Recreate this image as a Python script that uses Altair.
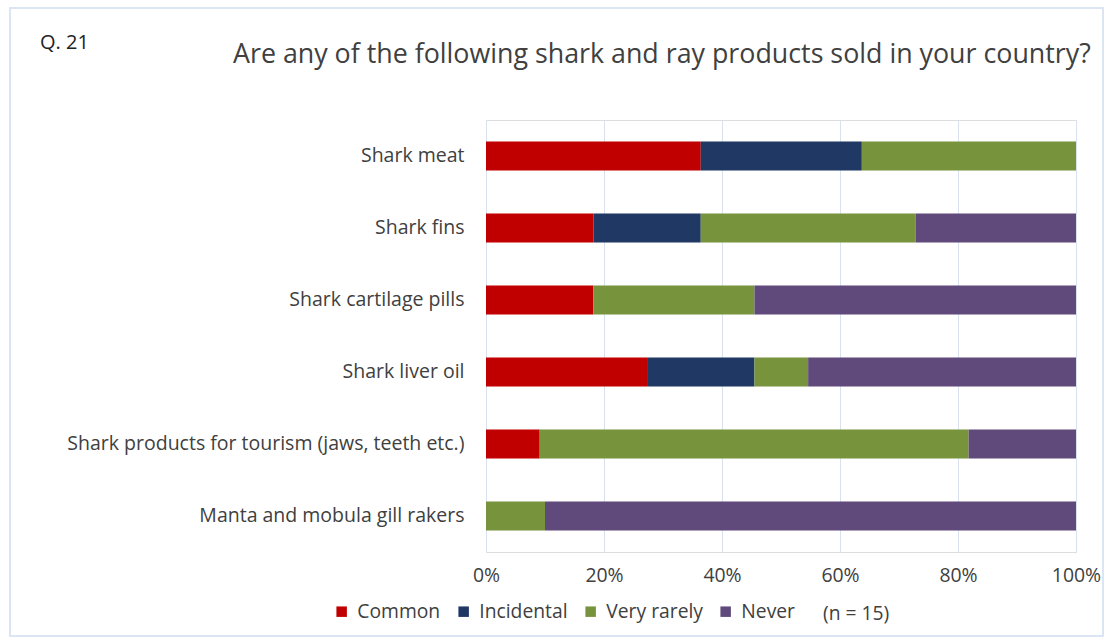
import altair as alt
import pandas as pd

products = [
    "Shark meat",
    "Shark fins",
    "Shark cartilage pills",
    "Shark liver oil",
    "Shark products for tourism (jaws, teeth etc.)",
    "Manta and mobula gill rakers",
]
levels = ["Common", "Incidental", "Very rarely", "Never"]
colors = ["#c00000", "#1f3864", "#77933c", "#604a7b"]

common = [36.4, 18.2, 18.2, 27.3, 9.1, 0.0]
incidental = [27.3, 18.2, 0.0, 18.2, 0.0, 0.0]
very_rarely = [36.3, 36.4, 27.3, 9.1, 72.7, 10.0]
never = [0.0, 27.2, 54.5, 45.4, 18.2, 90.0]

rows = []
for i, p in enumerate(products):
    for j, (lvl, vals) in enumerate(zip(levels, [common, incidental, very_rarely, never])):
        rows.append({"product": p, "level": lvl, "order": j, "value": vals[i] / 100.0})
df = pd.DataFrame(rows)

FONT = "Open Sans"
TXT = "#404040"

bars = alt.Chart(df).mark_bar().encode(
    x=alt.X(
        "value:Q",
        stack="zero",
        scale=alt.Scale(domain=[0, 1], nice=False),
        axis=alt.Axis(
            format="%",
            values=[0, 0.2, 0.4, 0.6, 0.8, 1.0],
            title=None,
            domain=False,
            ticks=False,
            grid=True,
            gridColor="#d9e1ef",
            gridWidth=1,
            labelFont=FONT,
            labelFontSize=19.4,
            labelColor=TXT,
            labelPadding=14,
            labelFlush=False,
            labelOverlap=False,
        ),
    ),
    y=alt.Y(
        "product:N",
        sort=products,
        scale=alt.Scale(paddingInner=0.6, paddingOuter=0.3),
        axis=alt.Axis(
            title=None,
            domain=False,
            ticks=False,
            labelFont=FONT,
            labelFontSize=19.5,
            labelColor=TXT,
            labelPadding=22,
            labelLimit=500,
        ),
    ),
    color=alt.Color(
        "level:N",
        sort=levels,
        scale=alt.Scale(domain=levels, range=colors),
        legend=alt.Legend(
            title=None,
            orient="none",
            direction="horizontal",
            legendX=-154,
            legendY=482,
            symbolType="square",
            symbolSize=110,
            symbolStrokeWidth=0,
            labelFont=FONT,
            labelFontSize=19.3,
            labelColor=TXT,
            labelOffset=6,
            columnPadding=13,
            padding=0,
        ),
    ),
    order=alt.Order("order:Q"),
)

one = pd.DataFrame({"k": [0]})

title = alt.Chart(one).mark_text(
    align="left", baseline="middle", font=FONT, fontSize=26.8, color=TXT
).encode(
    x=alt.value(-253),
    y=alt.value(-65),
    text=alt.value("Are any of the following shark and ray products sold in your country?"),
)

qnum = alt.Chart(one).mark_text(
    align="left", baseline="middle", font=FONT, fontSize=20, color="#222222"
).encode(x=alt.value(-446), y=alt.value(-77), text=alt.value("Q. 21"))

ntext = alt.Chart(one).mark_text(
    align="left", baseline="middle", font=FONT, fontSize=19.3, color=TXT
).encode(x=alt.value(337), y=alt.value(494), text=alt.value("(n = 15)"))

border = alt.Chart(one).mark_rect(
    filled=False, stroke="#dce6f2", strokeWidth=2
).encode(
    x=alt.value(-476), x2=alt.value(617), y=alt.value(-112), y2=alt.value(516)
)

chart = (
    alt.layer(border, bars, title, qnum, ntext)
    .properties(
        width=590,
        height=432,
        autosize=alt.AutoSizeParams(type="none"),
        padding={"left": 486, "top": 120, "right": 30, "bottom": 88},
    )
    .configure_view(stroke=None)
    .configure(background="white")
)

chart.save("out.html", embed_options={"renderer": "svg", "actions": False})
